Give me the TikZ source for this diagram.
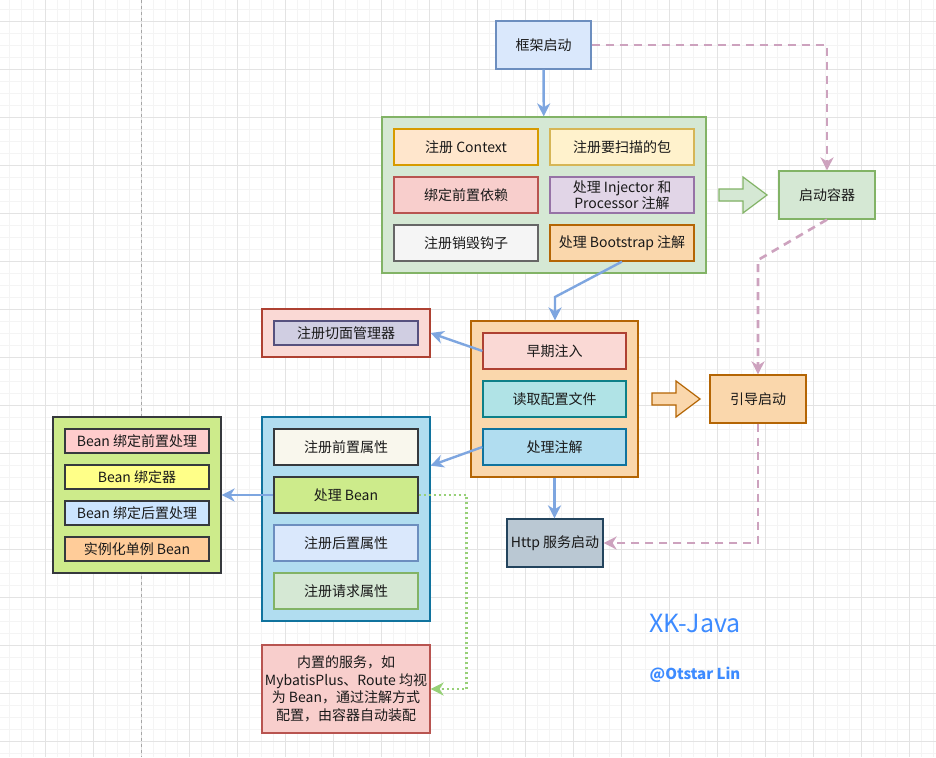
\documentclass[tikz,border=0pt]{standalone}
\usepackage{fontspec}
\setmainfont{Noto Sans CJK SC}
\usetikzlibrary{calc}
\usetikzlibrary{positioning}
\usetikzlibrary{arrows.meta}

\definecolor{bluefill}{HTML}{DAE8FC}\definecolor{blueline}{HTML}{6C8EBF}
\definecolor{greenfill}{HTML}{D5E8D4}\definecolor{greenline}{HTML}{82B366}
\definecolor{peachfill}{HTML}{FFE6CC}\definecolor{peachline}{HTML}{D79B00}
\definecolor{yellowfill}{HTML}{FFF2CC}\definecolor{yellowline}{HTML}{D6B656}
\definecolor{redfill}{HTML}{F8CECC}\definecolor{redline}{HTML}{B85450}
\definecolor{purplefill}{HTML}{E1D5E7}\definecolor{purpleline}{HTML}{9673A6}
\definecolor{grayfill}{HTML}{F5F5F5}\definecolor{grayline}{HTML}{666666}
\definecolor{orangefill}{HTML}{FAD7AC}\definecolor{orangeline}{HTML}{B46504}
\definecolor{rosefill}{HTML}{FAD9D5}\definecolor{roseline}{HTML}{AE4132}
\definecolor{tealfill}{HTML}{B0E3E6}\definecolor{tealline}{HTML}{0E8088}
\definecolor{skyfill}{HTML}{B1DDF0}\definecolor{skyline}{HTML}{10739E}
\definecolor{lavfill}{HTML}{D0CEE2}\definecolor{lavline}{HTML}{56517E}
\definecolor{darkline}{HTML}{36393D}
\definecolor{creamfill}{HTML}{F9F7ED}
\definecolor{limefill}{HTML}{CDEB8B}
\definecolor{pinkfill}{HTML}{FFCCCC}
\definecolor{lemonfill}{HTML}{FFFF88}
\definecolor{icefill}{HTML}{CCE5FF}
\definecolor{apricotfill}{HTML}{FFCC99}
\definecolor{httpfill}{HTML}{BAC8D3}\definecolor{httpline}{HTML}{23445D}
\definecolor{flowblue}{HTML}{7EA6E0}
\definecolor{flowpink}{HTML}{CDA2BE}
\definecolor{flowgreen}{HTML}{97D077}
\definecolor{brand}{HTML}{3D8BFF}
\definecolor{gridminor}{HTML}{F4F4F4}
\definecolor{gridmajor}{HTML}{E3E3E3}

\begin{document}
\begin{tikzpicture}[x=1pt,y=-1pt]
\tikzstyle{box}=[rectangle,align=center,draw,line width=1.2pt,inner sep=0pt,text=black!90,font=\fontsize{14}{16}\selectfont]
\tikzstyle{flow}=[draw=flowblue,line width=2.4pt,-{Stealth[length=13pt,width=13pt,inset=4pt]}]
\tikzstyle{launch}=[draw=flowpink,line width=2.6pt,dash pattern=on 8pt off 6pt,-{Stealth[length=13pt,width=13pt,inset=4pt]}]
\tikzstyle{inject}=[draw=flowgreen,line width=2.4pt,dash pattern=on 2pt off 3pt,-{Stealth[length=13pt,width=13pt,inset=4pt]}]

% background grid
\fill[white] (0,0) rectangle (936,757);
\useasboundingbox (0,0) rectangle (936,757);
\foreach \x in {9,21,...,933} \draw[gridminor,line width=0.8pt] (\x,0) -- (\x,757);
\foreach \y in {9,21,...,753} \draw[gridminor,line width=0.8pt] (0,\y) -- (936,\y);
\foreach \x in {45,93,...,933} \draw[gridmajor,line width=0.8pt] (\x,0) -- (\x,757);
\foreach \y in {21,69,...,753} \draw[gridmajor,line width=0.8pt] (0,\y) -- (936,\y);
\draw[gray!70,line width=0.8pt,dash pattern=on 3pt off 3pt] (141,0) -- (141,757);

% framework start
\node[box,fill=bluefill,draw=blueline,minimum width=95,minimum height=48] at(543.5,45) (start) {框架启动};

\node[box,fill=greenfill,draw=greenline,minimum width=324,minimum height=156] at(544,195) (context) {};
\node[box,fill=peachfill,draw=peachline,minimum width=144,minimum height=36] at(466,147) (regctx) {注册 Context};
\node[box,fill=yellowfill,draw=yellowline,minimum width=144,minimum height=36] at(622,147) (scan) {注册要扫描的包};
\node[box,fill=redfill,draw=redline,minimum width=144,minimum height=36] at(466,195) (bind) {绑定前置依赖};
\node[box,fill=purplefill,draw=purpleline,minimum width=144,minimum height=36] at(622,195) (injector) {处理 Injector 和\\Processor 注解};
\node[box,fill=grayfill,draw=grayline,minimum width=144,minimum height=36] at(466,243) (hook) {注册销毁钩子};
\node[box,fill=orangefill,draw=orangeline,minimum width=144,minimum height=36] at(622,243) (bootstrap) {处理 Bootstrap 注解};

\draw[fill=greenfill,draw=greenline,line width=1.2pt] (719,189) -- (743,189) -- (743,177) -- (767,195)
  -- (743,213) -- (743,201) -- (719,201) -- cycle;
\node[box,fill=greenfill,draw=greenline,minimum width=96,minimum height=48] at(827,195) (container) {启动容器};

% early phase
\node[box,fill=orangefill,draw=orangeline,minimum width=167,minimum height=156] at(554.5,399) (early) {};
\node[box,fill=rosefill,draw=roseline,minimum width=143,minimum height=36] at(554.5,351) (inject) {早期注入};
\node[box,fill=tealfill,draw=tealline,minimum width=143,minimum height=36] at(554.5,399) (config) {读取配置文件};
\node[box,fill=skyfill,draw=skyline,minimum width=143,minimum height=36] at(554.5,447) (annot) {处理注解};

\node[box,fill=rosefill,draw=roseline,minimum width=168,minimum height=48] at(346,333) (aspect) {};
\node[box,fill=lavfill,draw=lavline,minimum width=144,minimum height=24] at(346,333) (aspectmgr) {注册切面管理器};

\draw[fill=orangefill,draw=orangeline,line width=1.2pt] (652,393) -- (676,393) -- (676,381) -- (700,399)
  -- (676,417) -- (676,405) -- (652,405) -- cycle;
\node[box,fill=orangefill,draw=orangeline,minimum width=96,minimum height=48] at(758,399) (guide) {引导启动};

% attributes
\node[box,fill=skyfill,draw=skyline,minimum width=168,minimum height=204] at(346,519) (attrs) {};
\node[box,fill=creamfill,draw=darkline,minimum width=144,minimum height=36] at(346,447) (preattr) {注册前置属性};
\node[box,fill=limefill,draw=darkline,minimum width=144,minimum height=36] at(346,495) (bean) {处理 Bean};
\node[box,fill=bluefill,draw=blueline,minimum width=144,minimum height=36] at(346,543) (postattr) {注册后置属性};
\node[box,fill=greenfill,draw=greenline,minimum width=144,minimum height=36] at(346,591) (reqattr) {注册请求属性};

\node[box,fill=limefill,draw=darkline,minimum width=168,minimum height=156] at(137,495) (binder) {};
\node[box,fill=pinkfill,draw=darkline,minimum width=144,minimum height=24] at(137,441) (prebind) {Bean 绑定前置处理};
\node[box,fill=lemonfill,draw=darkline,minimum width=144,minimum height=24] at(137,477) (beanbind) {Bean 绑定器};
\node[box,fill=icefill,draw=darkline,minimum width=144,minimum height=24] at(137,513) (postbind) {Bean 绑定后置处理};
\node[box,fill=apricotfill,draw=darkline,minimum width=144,minimum height=24] at(137,549) (single) {实例化单例 Bean};

\node[box,fill=redfill,draw=redline,minimum width=168,minimum height=88,font=\fontsize{14}{17.5}\selectfont] at(346,689) (note) {内置的服务，如\\MybatisPlus、Route 均视\\为 Bean，通过注解方式\\配置，由容器自动装配};

\node[box,fill=httpfill,draw=httpline,minimum width=96,minimum height=48] at(555,543) (http) {Http 服务启动};

\node[text=brand,font=\fontsize{25}{27}\selectfont] at(695,623) (brandname) {XK-Java};
\node[text=brand,font=\fontsize{15}{17}\selectfont\bfseries] at(695,675) (author) {@Otstar Lin};

% connectors
\coordinate (bend1) at (555,297);
\coordinate (bend2) at (758,260);
\draw[flow] (start) -- (context);
\draw[flow] (bootstrap.south) -- (bend1) -- (bend1 |- early.north);
\draw[flow] (inject.west) -- (aspect.east);
\draw[flow] (annot.west) -- ($(attrs.north east)!0.24!(attrs.south east)$);
\draw[flow] (bean.west) -- (binder.east);
\draw[flow] (early.south) -- (early.south |- http.north);
\draw[launch] (start.east) -| (container.north);
\draw[launch] (container.south) -- (bend2) -- (guide.north);
\draw[launch] (guide.south) |- (http.east);
\draw[inject] (bean.east) -- ++(48,0) |- (note.east);
\end{tikzpicture}
\end{document}
